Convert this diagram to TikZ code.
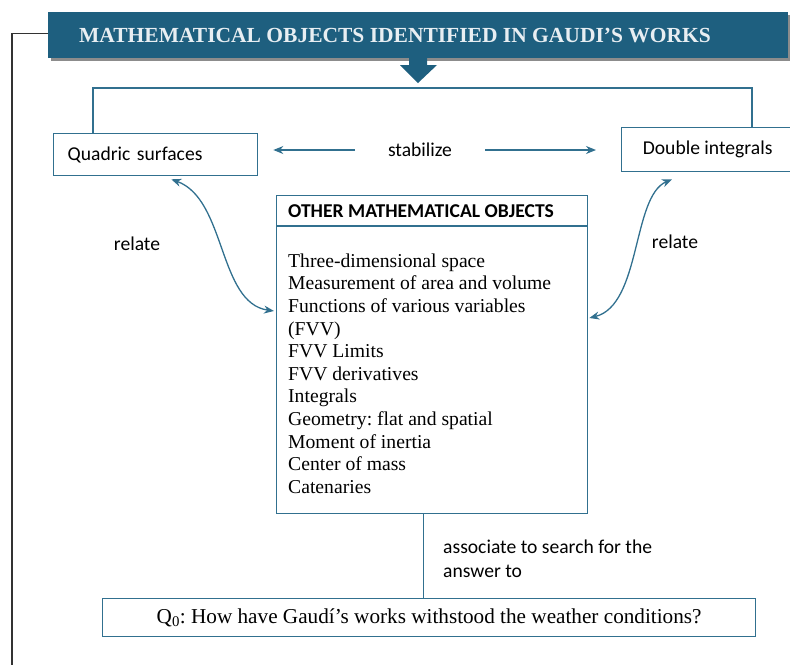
\documentclass[tikz,border=0pt]{standalone}
\usepackage{fontspec}
\setmainfont{Liberation Serif}
\setsansfont{Carlito}
\usetikzlibrary{arrows.meta,calc}
\definecolor{bannerblue}{RGB}{30,95,127}
\definecolor{linkblue}{RGB}{49,112,143}
\definecolor{bannertext}{RGB}{232,238,242}
\begin{document}
\frenchspacing
\begin{tikzpicture}[x=1pt,y=-1pt,
  box/.style={draw=linkblue, line width=1.3pt, inner sep=0pt},
  conn/.style={draw=linkblue, line width=1.3pt},
  arr/.style={conn, -{Stealth[length=10pt,width=8pt]}, fill=none},
  darr/.style={conn, {Stealth[length=10pt,width=8pt]}-{Stealth[length=10pt,width=8pt]}},
  sanslbl/.style={font=\sffamily\fontsize{19.6}{24}\selectfont, inner sep=0pt},
  seriftxt/.style={font=\rmfamily\fontsize{19.65}{22.6}\selectfont, inner sep=0pt},
]
\useasboundingbox (0,0) rectangle (790,665);

% title banner
\fill[black!45] (51,15) rectangle (792,61);
\node[fill=bannerblue, anchor=north west, minimum width=740pt, minimum height=46pt, inner sep=0pt] (title) at (48,12) {};
\node[font=\rmfamily\bfseries\fontsize{21.5}{24}\selectfont, text=bannertext, inner sep=0pt] (titletext) at (395,36) {MATHEMATICAL OBJECTS IDENTIFIED IN GAUDI’S WORKS};
\fill[bannerblue] (409,58) -- (427,58) -- (427,65) -- (437,65) -- (418,83) -- (400,65) -- (409,65) -- cycle;

% left frame line
\coordinate (lend) at (12,665);
\draw[black!80, line width=1.2pt] ([yshift=2pt]title.west) -| (lend);

% top boxes
\node[box, anchor=north west, minimum width=204pt, minimum height=42pt, text width=176pt, align=left, inner xsep=14pt, font=\sffamily\fontsize{19.6}{24}\selectfont] (quad) at (53,133) {Quadric surfaces};
\node[box, anchor=north west, minimum width=172pt, minimum height=44pt, font=\sffamily\fontsize{19.6}{24}\selectfont] (dint) at (621,127) {Double integrals};

\coordinate (brk) at (420,88);
\draw[conn] ([xshift=40pt]quad.north west) |- (brk) -| ([xshift=131pt]dint.north west);

% stabilize
\node[sanslbl] (stab) at (420,150) {stabilize};
\draw[arr] ([xshift=-65pt]stab.center) -- ([xshift=15pt]quad.east |- stab.center);
\draw[arr] ([xshift=65pt]stab.center) -- ([xshift=-25pt]dint.west |- stab.center);

% other objects box
\node[box, anchor=north west, minimum width=311pt, minimum height=318pt] (other) at (276,195) {};
\draw[conn] ([yshift=-31pt]other.north west) -- ([yshift=-31pt]other.north east);
\node[font=\sffamily\bfseries\fontsize{19.6}{24}\selectfont, inner sep=0pt, anchor=west] (hdr) at (288,211) {OTHER MATHEMATICAL OBJECTS};
\node[seriftxt, anchor=north west, align=left] (body) at (288,253.5) {Three-dimensional space\\
Measurement of area and volume\\
Functions of various variables\\
(FVV)\\
FVV Limits\\
FVV derivatives\\
Integrals\\
Geometry: flat and spatial\\
Moment of inertia\\
Center of mass\\
Catenaries};

% relate curves
\node[sanslbl] (rel1) at (137,244) {relate};
\node[sanslbl] (rel2) at (675,242) {relate};
\draw[darr] ([xshift=-87pt,yshift=-3pt]quad.south east) .. controls +(55,20) and +(-56,-8) .. ([xshift=-2pt,yshift=-116pt]other.north west);
\draw[darr] ([xshift=51pt,yshift=-7pt]dint.south west) .. controls +(-40,17) and +(52,-13) .. ([xshift=1pt,yshift=-123pt]other.north east);

% question
\node[box, font=\rmfamily\fontsize{21.2}{24}\selectfont, anchor=north west, minimum width=653pt, minimum height=38pt] (q0) at (102,598) {Q\textsubscript{0}: How have Gaudí's works withstood the weather conditions?};
\draw[conn] ([xshift=-9pt]other.south) -- ([xshift=-9pt]other.south |- q0.north);
\node[sanslbl, anchor=north west, align=left] (assoc) at (443,540) {associate to search for the\\answer to};
\end{tikzpicture}
\end{document}
